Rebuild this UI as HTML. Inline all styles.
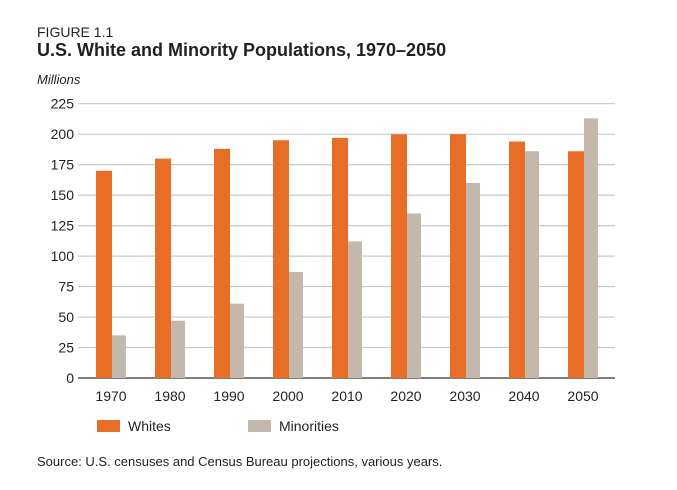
<!DOCTYPE html>
<html><head><meta charset="utf-8"><style>
body{margin:0;width:677px;height:490px;background:#fff;font-family:"Liberation Sans",sans-serif;color:#231f20;position:relative;overflow:hidden}
.t{position:absolute;white-space:nowrap}
</style></head><body>
<div class="t" style="left:37px;top:24px;font-size:14px">FIGURE 1.1</div>
<div class="t" style="left:37px;top:40px;font-size:18px;font-weight:bold">U.S. White and Minority Populations, 1970–2050</div>
<div class="t" style="left:37px;top:72px;font-size:13px;font-style:italic">Millions</div>
<svg id="c" width="677" height="490" style="position:absolute;left:0;top:0"></svg>
<div class="t" style="left:37px;top:454px;font-size:13px">Source: U.S. censuses and Census Bureau projections, various years.</div>
<script>
const years=["1970","1980","1990","2000","2010","2020","2030","2040","2050"];
const whites=[170,180,188,195,197,200,200,194,186];
const minorities=[35,47,61,87,112,135,160,186,213];
const ticks=[0,25,50,75,100,125,150,175,200,225];
const NS="http://www.w3.org/2000/svg";
const svg=document.getElementById('c');
const y0=378,yTop=103.7,x0=78,x1=615;
const y=v=>y0-(v/225)*(y0-yTop);
const gx=i=>96+i*59;
function mk(t,a,p){const e=document.createElementNS(NS,t);for(const k in a)e.setAttribute(k,a[k]);(p||svg).appendChild(e);return e;}
ticks.forEach(t=>{
  const l=mk('line',{x1:x0,x2:x1,y1:y(t),y2:y(t),stroke:t===0?'#333':'#c8c8c8','stroke-width':t===0?1.3:1.2});
  
  
  const tx=mk('text',{x:74,y:y(t)+5,'text-anchor':'end','font-size':14,fill:'#231f20'});
  tx.textContent=t;
  
  
});
years.forEach((yr,i)=>{
  const a=mk('rect',{x:gx(i),y:y(whites[i]),width:16,height:y0-y(whites[i]),fill:'#e86d26'});
  
  
  const b=mk('rect',{x:gx(i)+16,y:y(minorities[i]),width:14,height:y0-y(minorities[i]),fill:'#c4b8ac'});
  
  
  const t=mk('text',{x:gx(i)+15,y:401,'text-anchor':'middle','font-size':14,fill:'#231f20'});
  t.textContent=yr;
  
  
});
const l1=mk('rect',{x:97,y:420,width:23,height:12,fill:'#e86d26'});


const t1=mk('text',{x:128,y:431,'font-size':14,fill:'#231f20'});t1.textContent='Whites';


const l2=mk('rect',{x:248,y:420,width:23,height:12,fill:'#c4b8ac'});


const t2=mk('text',{x:279,y:431,'font-size':14,fill:'#231f20'});t2.textContent='Minorities';


</script>
</body></html>
